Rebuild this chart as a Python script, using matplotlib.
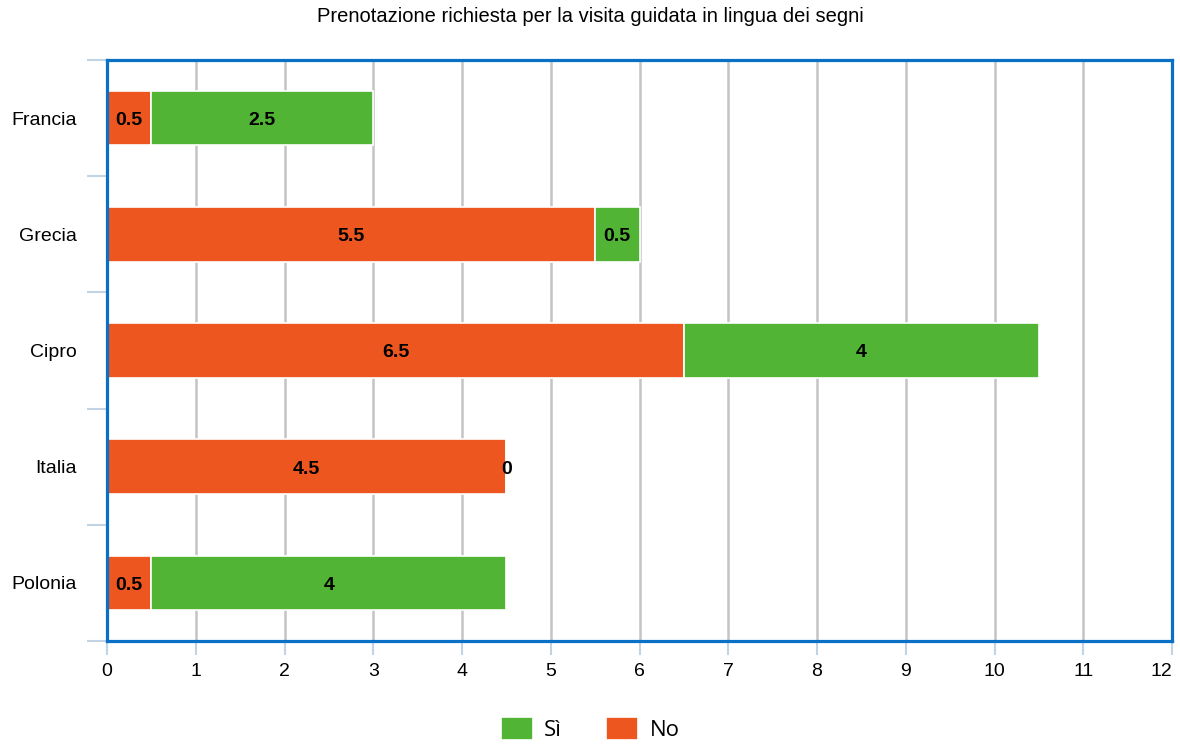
import matplotlib.pyplot as plt
import numpy as np

paesi = ["Francia", "Grecia", "Cipro", "Italia", "Polonia"]
no_vals = [0.5, 5.5, 6.5, 4.5, 0.5]
si_vals = [2.5, 0.5, 4, 0, 4]
x_ticks = list(range(0, 13))

col_no = "#EE561F"
col_si = "#52B435"
col_frame = "#0A70C6"
col_tick = "#C3D3E6"

plt.rcParams["font.family"] = ["Liberation Sans", "DejaVu Sans"]

fig = plt.figure(figsize=(11.8, 7.44), dpi=100)
ax = fig.add_axes([107 / 1180, 1 - 641 / 744, (1172 - 107) / 1180, (641 - 60) / 744])

y = np.arange(len(paesi))
h = 0.47
ax.barh(y, no_vals, height=h, color=col_no, edgecolor="white", linewidth=1.2, zorder=3, label="No")
ax.barh(y, si_vals, left=no_vals, height=h, color=col_si, edgecolor="white", linewidth=1.2, zorder=3, label="Sì")

# etichette dei valori al centro di ogni segmento
for i in range(len(paesi)):
    ax.text(no_vals[i] / 2, y[i] + 0.02, f"{no_vals[i]:g}", ha="center", va="center",
            fontsize=14, fontweight="bold", zorder=4)
    ax.text(no_vals[i] + si_vals[i] / 2, y[i] + 0.02, f"{si_vals[i]:g}", ha="center", va="center",
            fontsize=14, fontweight="bold", zorder=4)

ax.set_xlim(0, 12)
ax.set_ylim(len(paesi) - 0.5, -0.5)

ax.set_xticks(x_ticks)
ax.xaxis.grid(True, color="#C4C4C4", linewidth=1.8, zorder=0)
ax.tick_params(axis="x", length=10, width=1.5, color=col_tick, labelsize=14, pad=6)
# l'ultima etichetta allineata a destra per restare dentro la figura
ax.get_xticklabels()[-1].set_horizontalalignment("right")

ax.set_yticks(y)
ax.set_yticklabels(paesi)
ax.set_yticks(np.arange(-0.5, len(paesi)), minor=True)
ax.tick_params(axis="y", which="major", length=0, labelsize=14, pad=22)
ax.tick_params(axis="y", which="minor", length=14.5, width=1.5, color=col_tick)

for s in ax.spines.values():
    s.set_color(col_frame)
    s.set_linewidth(2.3)
    s.set_zorder(5)

fig.text(0.5, 1 - 17 / 744, "Prenotazione richiesta per la visita guidata in lingua dei segni",
         ha="center", va="center", fontsize=14.5)

handles, labels = ax.get_legend_handles_labels()
fig.legend(handles[::-1], labels[::-1], loc="center", bbox_to_anchor=(590 / 1180, 1 - 729 / 744),
           ncol=2, frameon=False, handlelength=1.45, handleheight=1.25,
           handletextpad=0.5, columnspacing=2.0, prop={"family": ["Open Sans", "DejaVu Sans"], "size": 16})

fig.savefig("out.png", dpi=100)
